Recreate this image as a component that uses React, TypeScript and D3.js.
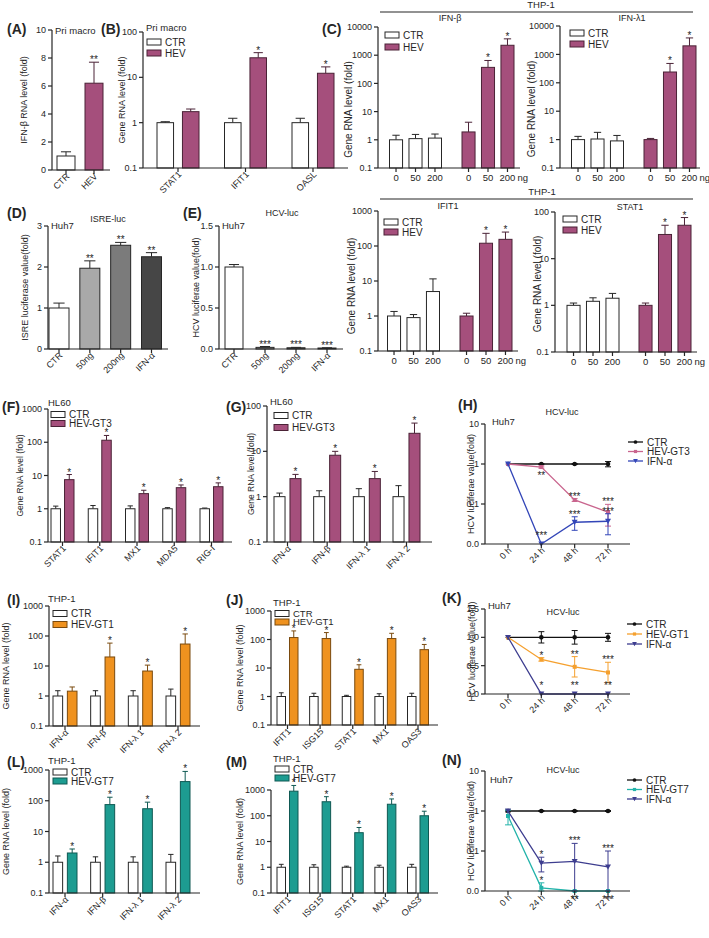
import React from "react";
import * as d3 from "d3";

const FONT = "'Liberation Sans', Arial, Helvetica, sans-serif";
const INK = "#262626";
const PINK = "#a54f7c";
const PINK_D = "#4a2236";
const ORANGE = "#ef921f";
const ORANGE_D = "#7a4a0e";
const TEAL = "#1d9c91";
const TEAL_D = "#0f5953";
const GRAYS = ["#ffffff", "#a9a9a9", "#7b7b7b", "#464646"];

// ---------------- data ----------------
const A_CATS = ["CTR", "HEV"];
const A_VALUES = [1, 6.2];
const A_ERR_TOP = [1.3, 7.7];
const A_SIG = ["", "**"];
const A_TICKS = [0, 2, 4, 6, 8, 10];

const B_GENES = ["STAT1", "IFIT1", "OASL"];
const B_CTR = [1, 1, 1];
const B_CTR_ERR = [1.05, 1.25, 1.25];
const B_HEV = [1.75, 27, 12.3];
const B_HEV_ERR = [2.0, 35, 17];
const B_SIG = ["", "*", "*"];

const C_GROUPS = ["CTR", "HEV"];
const C_DOSES = ["0", "50", "200"];
const C_IFNB_CTR = [1, 1.1, 1.15];
const C_IFNB_CTR_ERR = [1.45, 1.55, 1.6];
const C_IFNB_HEV = [1.9, 370, 2250];
const C_IFNB_HEV_ERR = [4.2, 650, 3800];
const C_IFNL1_CTR = [1, 1.05, 0.9];
const C_IFNL1_CTR_ERR = [1.3, 1.8, 1.4];
const C_IFNL1_HEV = [1, 240, 2000];
const C_IFNL1_HEV_ERR = [1.1, 480, 3800];
const C_IFIT1_CTR = [1, 0.9, 5];
const C_IFIT1_CTR_ERR = [1.35, 1.1, 11.5];
const C_IFIT1_HEV = [1, 120, 155];
const C_IFIT1_HEV_ERR = [1.2, 230, 250];
const C_STAT1_CTR = [1, 1.22, 1.42];
const C_STAT1_CTR_ERR = [1.12, 1.45, 1.8];
const C_STAT1_HEV = [1, 33, 52];
const C_STAT1_HEV_ERR = [1.12, 52, 76];
const C_HEV_SIG = ["", "*", "*"];

const D_CATS = ["CTR", "50ng", "200ng", "IFN-α"];
const D_VALUES = [1, 1.97, 2.53, 2.25];
const D_ERR_TOP = [1.12, 2.15, 2.6, 2.35];
const D_SIG = ["", "**", "**", "**"];
const D_TICKS = [0, 1, 2, 3];

const E_VALUES = [1, 0.02, 0.015, 0.012];
const E_ERR_TOP = [1.03, 0.03, 0.02, 0.015];
const E_SIG = ["", "***", "***", "***"];
const E_TICKS = [0, 0.5, 1.0, 1.5];

const F_GENES = ["STAT1", "IFIT1", "MX1", "MDA5", "RIG-I"];
const F_CTR = [1, 1, 1, 1, 1];
const F_CTR_ERR = [1.2, 1.25, 1.22, 1.08, 1.05];
const F_HEV = [7.5, 115, 2.85, 4.3, 4.6];
const F_HEV_ERR = [10.7, 160, 3.6, 5.2, 6];
const F_SIG = ["*", "*", "*", "*", "*"];

const IFN_GENES = ["IFN-α", "IFN-β", "IFN-λ 1", "IFN-λ 2"];
const G_CTR = [1, 1, 1, 1];
const G_CTR_ERR = [1.2, 1.35, 1.5, 1.75];
const G_HEV = [2.5, 8.2, 2.5, 25];
const G_HEV_ERR = [3.1, 10, 3.6, 42];
const G_SIG = ["*", "*", "*", "*"];

const TIMES = ["0 h", "24 h", "48 h", "72 h"];
const H_CTR = [1, 1, 1, 1];
const H_CTR_SD = [0, 0.03, 0.03, 0.15];
const H_GT3 = [1, 0.84, 0.126, 0.063];
const H_GT3_SD = [0, 0.05, 0.01, 0.035];
const H_IFN = [1, 0.01, 0.035, 0.037];
const H_IFN_SD = [0, 0, 0.013, 0.02];
const H_SIG = [
  { s: 1, t: 1, label: "**", pos: "below" },
  { s: 1, t: 2, label: "***", pos: "above" },
  { s: 1, t: 3, label: "***", pos: "above" },
  { s: 2, t: 1, label: "***", pos: "above" },
  { s: 2, t: 2, label: "***", pos: "above" },
  { s: 2, t: 3, label: "***", pos: "above" },
];

const I_CTR = [1, 1, 1, 1];
const I_CTR_ERR = [1.5, 1.5, 1.5, 1.7];
const I_HEV = [1.45, 20, 6.8, 54];
const I_HEV_ERR = [2.0, 58, 10.7, 117];
const I_SIG = ["", "*", "*", "*"];

const J_GENES = ["IFIT1", "ISG15", "STAT1", "MX1", "OAS3"];
const J_CTR = [1, 1, 1, 1, 1];
const J_CTR_ERR = [1.35, 1.3, 1.1, 1.25, 1.3];
const J_HEV = [117, 108, 9, 108, 44];
const J_HEV_ERR = [200, 175, 13, 165, 67];
const J_SIG = ["*", "*", "*", "*", "*"];

const K_CTR = [1, 1, 1, 1];
const K_CTR_SD = [0, 0.1, 0.12, 0.07];
const K_GT1 = [1, 0.61, 0.48, 0.38];
const K_GT1_SD = [0, 0.03, 0.18, 0.18];
const K_IFN = [1, 0, 0, 0];
const K_IFN_SD = [0, 0, 0, 0];
const K_SIG = [
  { s: 1, t: 1, label: "*", pos: "above" },
  { s: 1, t: 2, label: "**", pos: "above" },
  { s: 1, t: 3, label: "***", pos: "above" },
  { s: 2, t: 1, label: "*", pos: "above" },
  { s: 2, t: 2, label: "**", pos: "above" },
  { s: 2, t: 3, label: "**", pos: "above" },
];

const L_CTR = [1, 1, 1, 1];
const L_CTR_ERR = [1.6, 1.5, 1.5, 1.8];
const L_HEV = [2, 75, 55, 420];
const L_HEV_ERR = [2.7, 130, 90, 900];
const L_SIG = ["*", "*", "*", "*"];

const M_CTR = [1, 1, 1, 1, 1];
const M_CTR_ERR = [1.3, 1.25, 1.1, 1.2, 1.3];
const M_HEV = [900, 350, 22, 280, 100];
const M_HEV_ERR = [1500, 550, 35, 450, 150];
const M_SIG = ["*", "*", "*", "*", "*"];

const N_CTR = [1, 1, 1, 1];
const N_CTR_SD = [0.05, 0.03, 0.03, 0.03];
const N_GT7 = [0.75, 0.012, 0.01, 0.01];
const N_GT7_SD = [0.3, 0.004, 0, 0];
const N_IFN = [1, 0.05, 0.055, 0.04];
const N_IFN_SD = [0, 0.02, 0.1, 0.06];
const N_SIG = [
  { s: 1, t: 1, label: "*", pos: "above" },
  { s: 2, t: 1, label: "*", pos: "above" },
  { s: 2, t: 2, label: "***", pos: "above" },
  { s: 1, t: 2, label: "**", pos: "below" },
  { s: 2, t: 3, label: "***", pos: "above" },
  { s: 1, t: 3, label: "***", pos: "below" },
];

const LOG_TICKS = (lo: number, hi: number) => {
  const out: number[] = [];
  for (let v = lo; v <= hi * 1.001; v *= 10) out.push(+v.toPrecision(3));
  return out;
};
const fmtPlain = (v: number) => String(v);
const fmtOne = d3.format(".1f");
const fmtLogLine = (v: number) => (v < 0.1 ? "0.0" : String(v));

// ---------------- components ----------------
function YAxis({ y, ticks, fmt, x0, yTop, yBot, fs = 9 }: any) {
  return (
    <g>
      <line x1={x0} x2={x0} y1={yTop} y2={yBot} stroke={INK} strokeWidth={1.2} />
      {ticks.map((t: number) => (
        <g key={t}>
          <line x1={x0 - 4} x2={x0} y1={y(t)} y2={y(t)} stroke={INK} strokeWidth={1.2} />
          <text x={x0 - 6} y={y(t)} dy="0.35em" textAnchor="end" fontSize={fs} fill={INK}>
            {fmt(t)}
          </text>
        </g>
      ))}
    </g>
  );
}

function YTitle({ x, y, text, fs = 9 }: any) {
  return (
    <text transform={`translate(${x},${y}) rotate(-90)`} textAnchor="middle" dy="0.35em" fontSize={fs} fill={INK}>
      {text}
    </text>
  );
}

function BarChart(p: any) {
  const y = (p.log ? d3.scaleLog() : d3.scaleLinear()).domain(p.domain).range([p.yBot, p.yTop]);
  const gx = d3.scalePoint<string>().domain(p.groups).range([p.c0, p.c1]);
  const sx = d3.scaleBand<string>().domain(p.subs).range([-p.groupW / 2, p.groupW / 2]).paddingInner(p.pad);
  const bw = sx.bandwidth();
  const dmin = p.domain[0];
  const els: any[] = [];
  const xt: { x: number; label: string }[] = [];
  p.groups.forEach((g: string, gi: number) => {
    const gc = gx(g) as number;
    p.subs.forEach((s: string, si: number) => {
      const v = p.vals[gi][si];
      const e = p.errs[gi][si];
      const sig = p.sigs ? p.sigs[gi][si] : "";
      const bx = gc + (sx(s) as number);
      const cx = bx + bw / 2;
      const yv = y(Math.max(v, dmin));
      const ye = y(Math.max(e, dmin));
      const st = p.stroke(gi, si);
      els.push(
        <g key={`${gi}-${si}`}>
          <line x1={cx} x2={cx} y1={yv} y2={ye} stroke={st} strokeWidth={1} />
          <line x1={cx - bw * 0.28} x2={cx + bw * 0.28} y1={ye} y2={ye} stroke={st} strokeWidth={1} />
          <rect x={bx} y={yv} width={bw} height={Math.max(0, p.yBot - yv)} fill={p.fill(gi, si)} stroke={st} strokeWidth={1} />
          {sig ? (
            <text x={cx} y={ye + 1} textAnchor="middle" fontSize={10} fill={INK}>
              {sig}
            </text>
          ) : null}
        </g>
      );
      if (p.labelMode === "bar") xt.push({ x: cx, label: s });
    });
    if (p.labelMode === "group") xt.push({ x: gc, label: g });
  });
  const last = xt[xt.length - 1];
  return (
    <g fontFamily={FONT}>
      {els}
      <YAxis y={y} ticks={p.ticks} fmt={p.fmt || fmtPlain} x0={p.x0} yTop={p.yTop} yBot={p.yBot} />
      <line x1={p.x0} x2={p.xEnd} y1={p.yBot} y2={p.yBot} stroke={INK} strokeWidth={1.2} />
      {xt.map((t, i) => (
        <g key={i}>
          <line x1={t.x} x2={t.x} y1={p.yBot} y2={p.yBot + 4} stroke={INK} strokeWidth={1.2} />
          {p.labelMode === "group" ? (
            <text transform={`translate(${t.x + 4},${p.yBot + 7}) rotate(-45)`} textAnchor="end" fontSize={9} fill={INK}>
              {t.label}
            </text>
          ) : (
            <text x={t.x} y={p.yBot + 13} textAnchor="middle" fontSize={9.5} fill={INK}>
              {t.label}
            </text>
          )}
        </g>
      ))}
      {p.ng ? (
        <text x={last.x + 10} y={p.yBot + 13} fontSize={9.5} fill={INK}>
          ng
        </text>
      ) : null}
      <YTitle x={p.titleX} y={(p.yTop + p.yBot) / 2 + (p.titleDy || 0)} text={p.yTitle} fs={p.titleFs || 9} />
    </g>
  );
}

function Marker({ type, x, y, color, size = 1 }: any) {
  if (type === "circle") return <circle cx={x} cy={y} r={2.3 * size} fill={color} />;
  if (type === "square") return <rect x={x - 2 * size} y={y - 2 * size} width={4 * size} height={4 * size} fill={color} />;
  const s = 3 * size;
  return <path d={`M${x - s},${y - s * 0.8} L${x + s},${y - s * 0.8} L${x},${y + s * 0.9} Z`} fill={color} />;
}

function LineChart(p: any) {
  const y = (p.log ? d3.scaleLog() : d3.scaleLinear()).domain(p.domain).range([p.yBot, p.yTop]).clamp(true);
  const x = d3.scalePoint<string>().domain(p.times).range([p.t0, p.t1]);
  const dmin = p.domain[0];
  const yy = (v: number) => y(Math.max(v, dmin));
  const line = d3
    .line<number>()
    .x((_, i) => x(p.times[i]) as number)
    .y((v) => yy(v));
  return (
    <g fontFamily={FONT}>
      {p.series.map((s: any, si: number) => (
        <g key={si}>
          <path d={line(s.vals) || ""} fill="none" stroke={s.color} strokeWidth={1.3} />
          {s.vals.map((v: number, i: number) => {
            const cx = x(p.times[i]) as number;
            const sd = s.sd[i];
            const hi = yy(v + sd);
            const lo = yy(v - sd);
            return (
              <g key={i}>
                {sd > 0 ? (
                  <g stroke={s.color} strokeWidth={1}>
                    <line x1={cx} x2={cx} y1={hi} y2={lo} />
                    <line x1={cx - 3} x2={cx + 3} y1={hi} y2={hi} />
                    <line x1={cx - 3} x2={cx + 3} y1={lo} y2={lo} />
                  </g>
                ) : null}
                <Marker type={s.marker} x={cx} y={yy(v)} color={s.color} />
              </g>
            );
          })}
        </g>
      ))}
      {p.sigs.map((g: any, i: number) => {
        const s = p.series[g.s];
        const v = s.vals[g.t];
        const cx = x(p.times[g.t]) as number;
        const top = yy(v + s.sd[g.t]);
        const yl = g.pos === "above" ? Math.min(top + 1, p.yBot - 5) : yy(v) + 12;
        return (
          <text key={i} x={cx} y={yl} textAnchor="middle" fontSize={10} fill={INK}>
            {g.label}
          </text>
        );
      })}
      <YAxis y={y} ticks={p.ticks} fmt={p.fmt} x0={p.x0} yTop={p.yTop} yBot={p.yBot} />
      <line x1={p.x0} x2={p.xEnd} y1={p.yBot} y2={p.yBot} stroke={INK} strokeWidth={1.2} />
      {p.times.map((t: string) => {
        const cx = x(t) as number;
        return (
          <g key={t}>
            <line x1={cx} x2={cx} y1={p.yBot} y2={p.yBot + 4} stroke={INK} strokeWidth={1.2} />
            <text transform={`translate(${cx + 4},${p.yBot + 7}) rotate(-45)`} textAnchor="end" fontSize={9} fill={INK}>
              {t}
            </text>
          </g>
        );
      })}
      <YTitle x={p.titleX} y={(p.yTop + p.yBot) / 2} text={p.yTitle} fs={9} />
      {p.series.map((s: any, si: number) => (
        <g key={"lg" + si}>
          <line x1={p.legX} x2={p.legX + 15} y1={p.legY + si * p.legDy} y2={p.legY + si * p.legDy} stroke={s.color} strokeWidth={1.3} />
          <Marker type={s.marker} x={p.legX + 7.5} y={p.legY + si * p.legDy} color={s.color} size={0.8} />
          <text x={p.legX + 19} y={p.legY + si * p.legDy} dy="0.35em" fontSize={10} fill={INK}>
            {s.name}
          </text>
        </g>
      ))}
    </g>
  );
}

function Legend({ x, y, dy, items, fs = 10 }: any) {
  return (
    <g fontFamily={FONT}>
      {items.map((it: any, i: number) => (
        <g key={i}>
          <rect x={x} y={y + i * dy - 3} width={14} height={6} fill={it.fill} stroke={it.stroke} strokeWidth={1} />
          <text x={x + 18} y={y + i * dy} dy="0.35em" fontSize={fs} fill={INK}>
            {it.label}
          </text>
        </g>
      ))}
    </g>
  );
}

function T({ x, y, children, fs = 9.5, anchor = "start", bold = false }: any) {
  return (
    <text x={x} y={y} fontSize={fs} textAnchor={anchor} fontWeight={bold ? "bold" : "normal"} fill={INK} fontFamily={FONT}>
      {children}
    </text>
  );
}

const zip = (a: number[], b: number[]) => a.map((v, i) => [v, b[i]]);
const col = (a: any[]) => a.map((v) => [v]);

export default function App() {
  const ctrHev = (ctrFill = "#fff", hevFill = PINK, hevStroke = PINK_D) => ({
    fill: (_g: number, s: number) => (s === 0 ? ctrFill : hevFill),
    stroke: (_g: number, s: number) => (s === 0 ? INK : hevStroke),
  });
  const byGroup = {
    fill: (g: number) => (g === 0 ? "#fff" : PINK),
    stroke: (g: number) => (g === 0 ? INK : PINK_D),
  };
  const legPink = [
    { label: "CTR", fill: "#fff", stroke: INK },
    { label: "HEV", fill: PINK, stroke: PINK_D },
  ];
  return (
    <svg width={709} height={938} style={{ position: "absolute", left: 0, top: 0 }} fontFamily={FONT}>
      <rect width={709} height={938} fill="#fff" />

      {/* ---------- A ---------- */}
      <T x={7} y={34} fs={14} bold>(A)</T>
      <T x={55} y={34} fs={9.5}>Pri macro</T>
      <BarChart
        groups={A_CATS} subs={["v"]} vals={col(A_VALUES)} errs={col(A_ERR_TOP)} sigs={col(A_SIG)}
        fill={(g: number) => (g === 0 ? "#fff" : PINK)} stroke={(g: number) => (g === 0 ? INK : PINK_D)}
        log={false} domain={[0, 10]} ticks={A_TICKS}
        x0={52} xEnd={110} yTop={30} yBot={170} c0={66} c1={94} groupW={18} pad={0}
        labelMode="group" yTitle="IFN-β RNA level (fold)" titleX={24}
      />

      {/* ---------- B ---------- */}
      <T x={101} y={34} fs={14} bold>(B)</T>
      <T x={146} y={31} fs={9.5}>Pri macro</T>
      <BarChart
        groups={B_GENES} subs={C_GROUPS} vals={zip(B_CTR, B_HEV)} errs={zip(B_CTR_ERR, B_HEV_ERR)}
        sigs={B_SIG.map((s) => ["", s])} {...ctrHev()}
        log domain={[0.1, 100]} ticks={LOG_TICKS(0.1, 100)}
        x0={143} xEnd={348} yTop={32} yBot={168} c0={178} c1={313} groupW={42} pad={0.35}
        labelMode="group" yTitle="Gene RNA level (fold)" titleX={122}
      />
      <Legend x={147} y={42} dy={11} items={legPink} />

      {/* ---------- C ---------- */}
      <line x1={380} x2={693} y1={12} y2={12} stroke={INK} strokeWidth={1.2} />
      <T x={541} y={8} anchor="middle">THP-1</T>
      <T x={322} y={34} fs={14} bold>(C)</T>
      <T x={450} y={21} anchor="middle" fs={9}>IFN-β</T>
      <BarChart
        groups={C_GROUPS} subs={C_DOSES} vals={[C_IFNB_CTR, C_IFNB_HEV]} errs={[C_IFNB_CTR_ERR, C_IFNB_HEV_ERR]}
        sigs={[["", "", ""], C_HEV_SIG]} {...byGroup}
        log domain={[0.1, 10000]} ticks={LOG_TICKS(0.1, 10000)}
        x0={378} xEnd={520} yTop={27} yBot={168} c0={415.5} c1={488} groupW={52} pad={0.33}
        labelMode="bar" ng yTitle="Gene RNA level (fold)" titleX={348} titleDy={12} titleFs={10}
      />
      <Legend x={385} y={35} dy={12} items={legPink} />
      <T x={632} y={21} anchor="middle" fs={9}>IFN-λ1</T>
      <BarChart
        groups={C_GROUPS} subs={C_DOSES} vals={[C_IFNL1_CTR, C_IFNL1_HEV]} errs={[C_IFNL1_CTR_ERR, C_IFNL1_HEV_ERR]}
        sigs={[["", "", ""], C_HEV_SIG]} {...byGroup}
        log domain={[0.1, 10000]} ticks={LOG_TICKS(0.1, 10000)}
        x0={560} xEnd={700} yTop={26} yBot={168} c0={597.5} c1={670} groupW={52} pad={0.33}
        labelMode="bar" ng yTitle="Gene RNA level (fold)" titleX={531} titleDy={12} titleFs={10}
      />
      <Legend x={570} y={33} dy={11} items={legPink} />

      <line x1={380} x2={693} y1={199} y2={199} stroke={INK} strokeWidth={1.2} />
      <T x={542} y={195} anchor="middle">THP-1</T>
      <T x={448} y={209} anchor="middle" fs={9}>IFIT1</T>
      <BarChart
        groups={C_GROUPS} subs={C_DOSES} vals={[C_IFIT1_CTR, C_IFIT1_HEV]} errs={[C_IFIT1_CTR_ERR, C_IFIT1_HEV_ERR]}
        sigs={[["", "", ""], C_HEV_SIG]} {...byGroup}
        log domain={[0.1, 1000]} ticks={LOG_TICKS(0.1, 1000)}
        x0={378} xEnd={518} yTop={211} yBot={351} c0={413.5} c1={486} groupW={52} pad={0.33}
        labelMode="bar" ng yTitle="Gene RNA level (fold)" titleX={351} titleDy={5} titleFs={10}
      />
      <Legend x={384} y={222} dy={10} items={legPink} />
      <T x={630} y={210} anchor="middle" fs={9}>STAT1</T>
      <BarChart
        groups={C_GROUPS} subs={C_DOSES} vals={[C_STAT1_CTR, C_STAT1_HEV]} errs={[C_STAT1_CTR_ERR, C_STAT1_HEV_ERR]}
        sigs={[["", "", ""], C_HEV_SIG]} {...byGroup}
        log domain={[0.1, 100]} ticks={LOG_TICKS(0.1, 100)}
        x0={555} xEnd={697} yTop={212} yBot={352} c0={593} c1={665} groupW={52} pad={0.33}
        labelMode="bar" ng yTitle="Gene RNA level (fold)" titleX={537} titleDy={2} titleFs={10}
      />
      <Legend x={563} y={219} dy={11} items={legPink} />

      {/* ---------- D ---------- */}
      <T x={7} y={218} fs={14} bold>(D)</T>
      <T x={108} y={222} anchor="middle" fs={9}>ISRE-luc</T>
      <T x={51} y={229} fs={9.5}>Huh7</T>
      <BarChart
        groups={D_CATS} subs={["v"]} vals={col(D_VALUES)} errs={col(D_ERR_TOP)} sigs={col(D_SIG)}
        fill={(g: number) => GRAYS[g]} stroke={() => INK}
        log={false} domain={[0, 3]} ticks={D_TICKS}
        x0={48} xEnd={168} yTop={226} yBot={349} c0={59} c1={151.5} groupW={20} pad={0}
        labelMode="group" yTitle="ISRE luciferase value(fold)" titleX={25}
      />

      {/* ---------- E ---------- */}
      <T x={183} y={218} fs={14} bold>(E)</T>
      <T x={282} y={216} anchor="middle" fs={9}>HCV-luc</T>
      <T x={222} y={229} fs={9.5}>Huh7</T>
      <BarChart
        groups={D_CATS} subs={["v"]} vals={col(E_VALUES)} errs={col(E_ERR_TOP)} sigs={col(E_SIG)}
        fill={(g: number) => GRAYS[g]} stroke={() => INK}
        log={false} domain={[0, 1.5]} ticks={E_TICKS} fmt={fmtOne}
        x0={219} xEnd={343} yTop={226} yBot={349} c0={234} c1={327} groupW={18} pad={0}
        labelMode="group" yTitle="HCV luciferae value(fold)" titleX={196}
      />

      {/* ---------- F ---------- */}
      <T x={2} y={412} fs={14} bold>(F)</T>
      <T x={48} y={406} fs={9.5}>HL60</T>
      <BarChart
        groups={F_GENES} subs={C_GROUPS} vals={zip(F_CTR, F_HEV)} errs={zip(F_CTR_ERR, F_HEV_ERR)}
        sigs={F_SIG.map((s) => ["", s])} {...ctrHev()}
        log domain={[0.1, 1000]} ticks={LOG_TICKS(0.1, 1000)}
        x0={48} xEnd={232} yTop={409} yBot={542} c0={62.5} c1={211.5} groupW={23} pad={0.3}
        labelMode="group" yTitle="Gene RNA level (fold)" titleX={20} titleFs={8.5}
      />
      <Legend x={51} y={414.5} dy={9} items={[{ label: "CTR", fill: "#fff", stroke: INK }, { label: "HEV-GT3", fill: PINK, stroke: PINK_D }]} />

      {/* ---------- G ---------- */}
      <T x={226} y={412} fs={14} bold>(G)</T>
      <T x={270} y={405} fs={9.5}>HL60</T>
      <BarChart
        groups={IFN_GENES} subs={C_GROUPS} vals={zip(G_CTR, G_HEV)} errs={zip(G_CTR_ERR, G_HEV_ERR)}
        sigs={G_SIG.map((s) => ["", s])} {...ctrHev()}
        log domain={[0.1, 100]} ticks={LOG_TICKS(0.1, 100)}
        x0={267} xEnd={432} yTop={406} yBot={542} c0={287.5} c1={406.5} groupW={27} pad={0.31}
        labelMode="group" yTitle="Gene RNA level (fold)" titleX={251} titleFs={8.5}
      />
      <Legend x={274} y={415.5} dy={12} items={[{ label: "CTR", fill: "#fff", stroke: INK }, { label: "HEV-GT3", fill: PINK, stroke: PINK_D }]} />

      {/* ---------- H ---------- */}
      <T x={458} y={410} fs={14} bold>(H)</T>
      <T x={562} y={415} anchor="middle" fs={9}>HCV-luc</T>
      <T x={492} y={425} fs={9.5}>Huh7</T>
      <LineChart
        times={TIMES}
        series={[
          { name: "CTR", vals: H_CTR, sd: H_CTR_SD, color: "#111", marker: "circle" },
          { name: "HEV-GT3", vals: H_GT3, sd: H_GT3_SD, color: "#c9658e", marker: "square" },
          { name: "IFN-α", vals: H_IFN, sd: H_IFN_SD, color: "#3346b8", marker: "tri" },
        ]}
        sigs={H_SIG} log domain={[0.01, 10]} ticks={LOG_TICKS(0.01, 10)} fmt={fmtLogLine}
        x0={485} xEnd={630} yTop={424} yBot={544} t0={508} t1={608}
        yTitle="HCV luciferae value(fold)" titleX={471}
        legX={628} legY={442} legDy={9.5}
      />

      {/* ---------- I ---------- */}
      <T x={7} y={605} fs={14} bold>(I)</T>
      <T x={48} y={602} fs={9.5}>THP-1</T>
      <BarChart
        groups={IFN_GENES} subs={C_GROUPS} vals={zip(I_CTR, I_HEV)} errs={zip(I_CTR_ERR, I_HEV_ERR)}
        sigs={I_SIG.map((s) => ["", s])} {...ctrHev("#fff", ORANGE, ORANGE_D)}
        log domain={[0.1, 1000]} ticks={LOG_TICKS(0.1, 1000)}
        x0={49} xEnd={200} yTop={606} yBot={726} c0={65} c1={178} groupW={24} pad={0.33}
        labelMode="group" yTitle="Gene RNA level (fold)" titleX={6}
      />
      <Legend x={53} y={613.5} dy={11} items={[{ label: "CTR", fill: "#fff", stroke: INK }, { label: "HEV-GT1", fill: ORANGE, stroke: ORANGE_D }]} />

      {/* ---------- J ---------- */}
      <T x={226} y={605} fs={14} bold>(J)</T>
      <T x={273} y={606} fs={9.5}>THP-1</T>
      <BarChart
        groups={J_GENES} subs={C_GROUPS} vals={zip(J_CTR, J_HEV)} errs={zip(J_CTR_ERR, J_HEV_ERR)}
        sigs={J_SIG.map((s) => ["", s])} {...ctrHev("#fff", ORANGE, ORANGE_D)}
        log domain={[0.1, 1000]} ticks={LOG_TICKS(0.1, 1000)}
        x0={271} xEnd={438} yTop={611} yBot={725} c0={287.5} c1={418} groupW={21} pad={0.32}
        labelMode="group" yTitle="Gene RNA level (fold)" titleX={240}
      />
      <Legend x={275} y={613.5} dy={8.5} fs={9.5} items={[{ label: "CTR", fill: "#fff", stroke: INK }, { label: "HEV-GT1", fill: ORANGE, stroke: ORANGE_D }]} />

      {/* ---------- K ---------- */}
      <T x={442} y={603} fs={14} bold>(K)</T>
      <T x={563} y={615} anchor="middle" fs={9}>HCV-luc</T>
      <T x={488} y={609} fs={9.5}>Huh7</T>
      <LineChart
        times={TIMES}
        series={[
          { name: "CTR", vals: K_CTR, sd: K_CTR_SD, color: "#111", marker: "circle" },
          { name: "HEV-GT1", vals: K_GT1, sd: K_GT1_SD, color: "#f5a02e", marker: "square" },
          { name: "IFN-α", vals: K_IFN, sd: K_IFN_SD, color: "#3d3d8f", marker: "tri" },
        ]}
        sigs={K_SIG} log={false} domain={[0, 1.5]} ticks={E_TICKS} fmt={fmtOne}
        x0={485} xEnd={630} yTop={609} yBot={694} t0={508} t1={608}
        yTitle="HCV luciferae value(fold)" titleX={472}
        legX={627} legY={624} legDy={10}
      />

      {/* ---------- L ---------- */}
      <T x={7} y={767} fs={14} bold>(L)</T>
      <T x={48} y={764} fs={9.5}>THP-1</T>
      <BarChart
        groups={IFN_GENES} subs={C_GROUPS} vals={zip(L_CTR, L_HEV)} errs={zip(L_CTR_ERR, L_HEV_ERR)}
        sigs={L_SIG.map((s) => ["", s])} {...ctrHev("#fff", TEAL, TEAL_D)}
        log domain={[0.1, 1000]} ticks={LOG_TICKS(0.1, 1000)}
        x0={49} xEnd={200} yTop={770} yBot={893} c0={65} c1={178} groupW={24} pad={0.33}
        labelMode="group" yTitle="Gene RNA level (fold)" titleX={6}
      />
      <Legend x={53} y={772} dy={9} items={[{ label: "CTR", fill: "#fff", stroke: INK }, { label: "HEV-GT7", fill: TEAL, stroke: TEAL_D }]} />

      {/* ---------- M ---------- */}
      <T x={226} y={767} fs={14} bold>(M)</T>
      <T x={273} y={762} fs={9.5}>THP-1</T>
      <BarChart
        groups={J_GENES} subs={C_GROUPS} vals={zip(M_CTR, M_HEV)} errs={zip(M_CTR_ERR, M_HEV_ERR)}
        sigs={M_SIG.map((s) => ["", s])} {...ctrHev("#fff", TEAL, TEAL_D)}
        log domain={[0.1, 1000]} ticks={LOG_TICKS(0.1, 1000)}
        x0={271} xEnd={438} yTop={790} yBot={893} c0={287.5} c1={418} groupW={21} pad={0.32}
        labelMode="group" yTitle="Gene RNA level (fold)" titleX={240}
      />
      <Legend x={275} y={769} dy={9} items={[{ label: "CTR", fill: "#fff", stroke: INK }, { label: "HEV-GT7", fill: TEAL, stroke: TEAL_D }]} />

      {/* ---------- N ---------- */}
      <T x={442} y={765} fs={14} bold>(N)</T>
      <T x={563} y={773} anchor="middle" fs={9}>HCV-luc</T>
      <T x={490} y={783} fs={9.5}>Huh7</T>
      <LineChart
        times={TIMES}
        series={[
          { name: "CTR", vals: N_CTR, sd: N_CTR_SD, color: "#111", marker: "circle" },
          { name: "HEV-GT7", vals: N_GT7, sd: N_GT7_SD, color: "#23b3aa", marker: "square" },
          { name: "IFN-α", vals: N_IFN, sd: N_IFN_SD, color: "#3d3d8f", marker: "tri" },
        ]}
        sigs={N_SIG} log domain={[0.01, 10]} ticks={LOG_TICKS(0.01, 10)} fmt={fmtLogLine}
        x0={485} xEnd={630} yTop={771} yBot={891} t0={508} t1={608}
        yTitle="HCV luciferae value(fold)" titleX={471}
        legX={627} legY={780} legDy={9.5}
      />
    </svg>
  );
}
